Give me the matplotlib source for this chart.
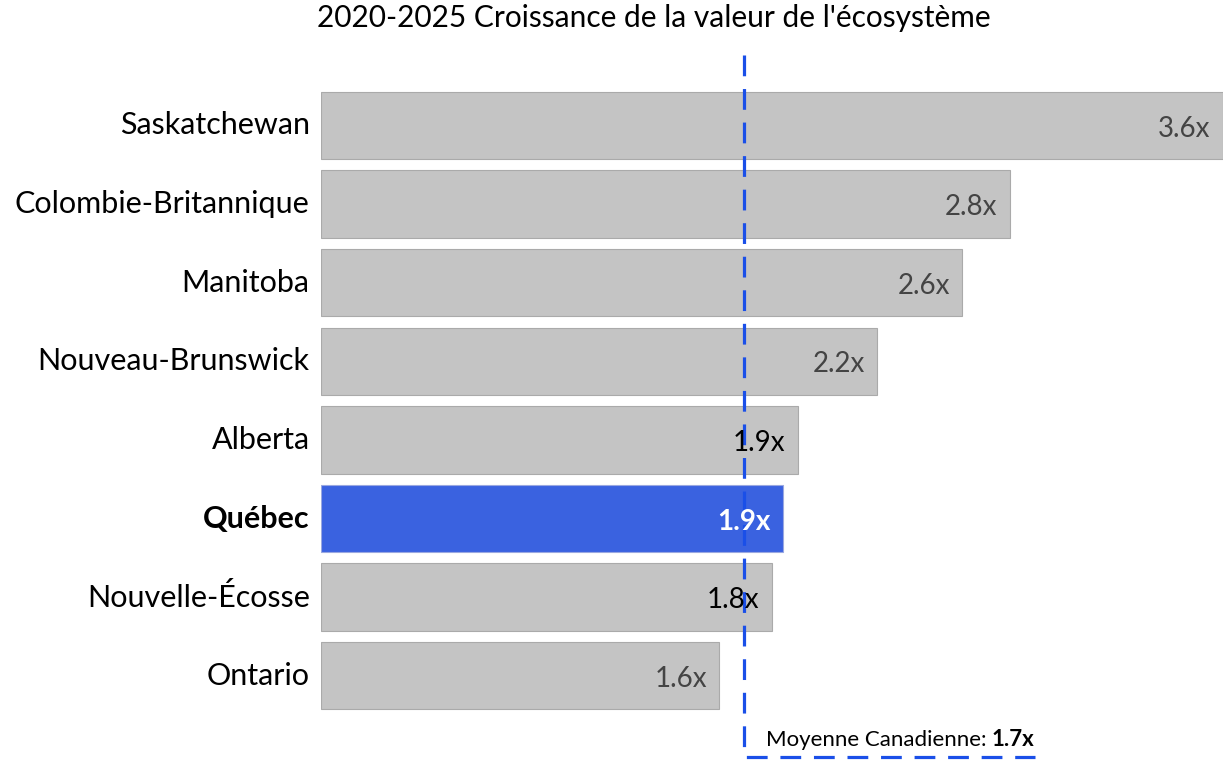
import matplotlib
matplotlib.use("Agg")
import matplotlib.pyplot as plt

plt.rcParams['font.family'] = ['Lato', 'DejaVu Sans']

provinces = ["Saskatchewan", "Colombie-Britannique", "Manitoba", "Nouveau-Brunswick",
             "Alberta", "Québec", "Nouvelle-Écosse", "Ontario"]
values = [3.60, 2.75, 2.56, 2.22, 1.905, 1.845, 1.80, 1.59]
value_labels = ["3.6x", "2.8x", "2.6x", "2.2x", "1.9x", "1.9x", "1.8x", "1.6x"]
label_colors = ["#444444", "#444444", "#444444", "#444444", "#000000", "#ffffff", "#000000", "#444444"]
highlight = "Québec"
average = 1.69
average_label = "1.7x"
title = "2020-2025 Croissance de la valeur de l'écosystème"

W, H = 1226, 761
fig = plt.figure(figsize=(W / 100, H / 100), dpi=100)
ax = fig.add_axes([321 / W, 0, (1223 - 321) / W, 1])
ax.set_xlim(0, 3.6)
step = 78.6
ax.set_ylim((H - 125.5) / step, -125.5 / step)
ax.axis('off')

gray = "#c4c4c4"
blue = "#3a62e0"
line_blue = "#1a4fe8"

ypos = list(range(len(provinces)))
colors = [blue if p == highlight else gray for p in provinces]
edges = ["#9aa8e0" if p == highlight else "#aaaaaa" for p in provinces]
ax.barh(ypos, values, height=0.855, color=colors, edgecolor=edges, linewidth=0.8, zorder=2)

for y, p, v, lab, lc in zip(ypos, provinces, values, value_labels, label_colors):
    bold = p == highlight
    ax.text(-0.045, y, p, ha='right', va='center', fontsize=22,
            fontweight='bold' if bold else 'normal', color='black', clip_on=False)
    ax.text(v - 0.05, y + 0.04, lab, ha='right', va='center', fontsize=20,
            fontweight='bold' if bold else 'normal', color=lc, zorder=5)

# average line (L-shape)
y_top = (55 - 125.5) / step
y_bot = (757 - 125.5) / step
x_end = (1035 - 321) / 250.4
ax.plot([average, average, x_end], [y_top, y_bot, y_bot], color=line_blue, lw=2.3,
        dashes=(6.5, 4), clip_on=False, zorder=4, solid_capstyle='butt', dash_capstyle='butt')

t1 = ax.text(average + 0.085, (740 - 125.5) / step, "Moyenne Canadienne: ", ha='left', va='center',
             fontsize=16, color='black')
fig.canvas.draw()
bb = t1.get_window_extent()
fig.text(bb.x1 / W, (H - 740) / H, average_label, ha='left', va='center', fontsize=16,
         fontweight='bold', color='black')

fig.text(654 / W, 1 - 18 / H, title, ha='center', va='center', fontsize=21.5, color='black')

fig.savefig("out.png", dpi=100)
